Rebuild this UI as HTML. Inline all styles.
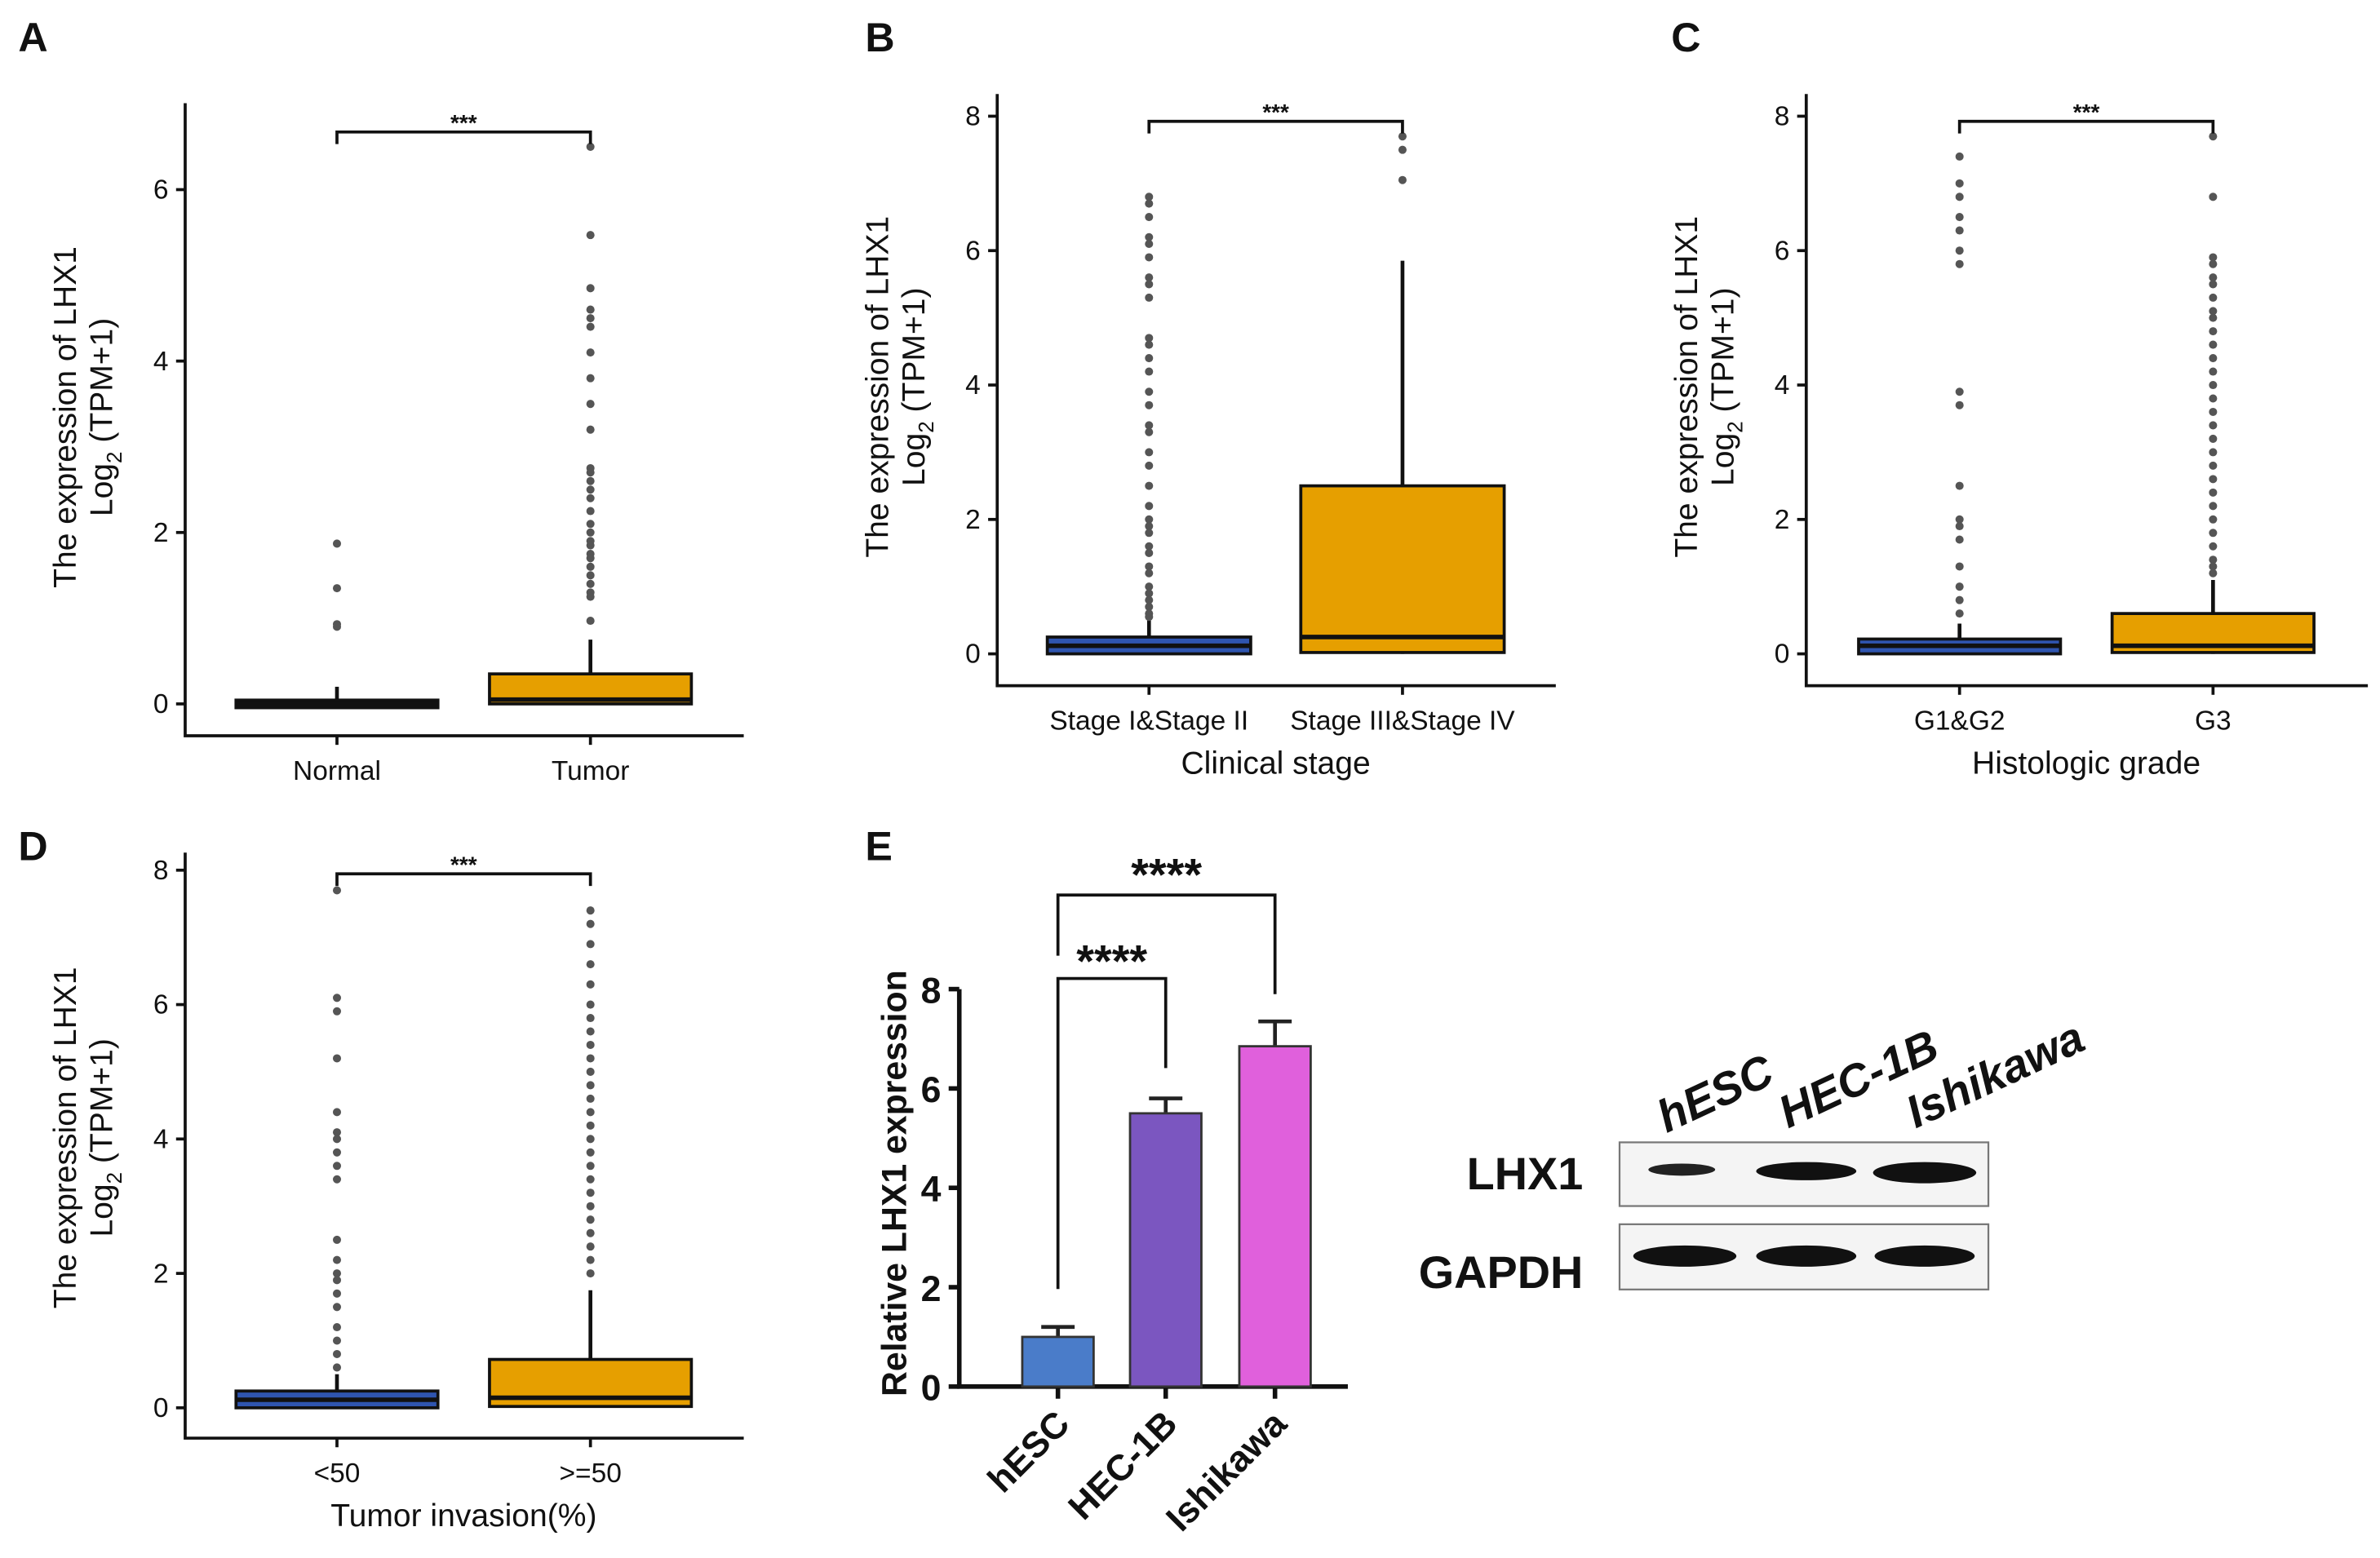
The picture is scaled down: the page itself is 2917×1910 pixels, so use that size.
<!DOCTYPE html>
<html><head><meta charset="utf-8">
<style>
html,body{margin:0;padding:0;background:#fff;}
svg{display:block;}
text{font-family:"Liberation Sans",Arial,sans-serif;fill:#111;}
</style></head>
<body>
<svg id="fig" width="2917" height="1910" viewBox="0 0 1568 1027" preserveAspectRatio="none" xmlns="http://www.w3.org/2000/svg">
<rect width="1568" height="1027" fill="#fff"/>
<g font-weight="bold" font-size="27">
<text x="12" y="34">A</text>
<text x="570" y="34">B</text>
<text x="1101" y="34">C</text>
<text x="12" y="567">D</text>
<text x="570" y="567">E</text>
</g>
<g id="charts"></g>
<g>
<text x="1043" y="784" font-size="30" font-weight="bold" text-anchor="end">LHX1</text>
<text x="1043" y="849" font-size="30" font-weight="bold" text-anchor="end">GAPDH</text>
<rect x="1067" y="753" width="243" height="42" fill="#f4f4f4" stroke="#777" stroke-width="1.2"/>
<rect x="1067" y="807" width="243" height="43" fill="#f4f4f4" stroke="#777" stroke-width="1.2"/>
<ellipse cx="1108" cy="771" rx="22" ry="4" fill="#222"/>
<ellipse cx="1190" cy="772" rx="33" ry="6" fill="#111"/>
<ellipse cx="1268" cy="773" rx="34" ry="7" fill="#111"/>
<ellipse cx="1110" cy="828" rx="34" ry="7" fill="#111"/>
<ellipse cx="1190" cy="828" rx="33" ry="7" fill="#111"/>
<ellipse cx="1268" cy="828" rx="33" ry="7" fill="#111"/>
<g font-size="30" font-style="italic" font-weight="600">
<text transform="translate(1098,747) rotate(-25)">hESC</text>
<text transform="translate(1178,744) rotate(-25)">HEC-1B</text>
<text transform="translate(1262,744) rotate(-25)">Ishikawa</text>
</g>
</g>
</svg>
<script>
// ---- Panel A data ----
const catsA = ["Normal","Tumor"];
const boxA = [[0,0,0,0,0.2],[0,0.05,0.35,0,0.75]];
const outA0 = [1.87,1.35,0.93,0.9];
const outA1 = [6.5,5.47,4.85,4.6,4.5,4.4,4.1,3.8,3.5,3.2,2.75,2.7,2.6,2.5,2.4,2.25,2.1,2.0,1.9,1.85,1.75,1.7,1.6,1.5,1.4,1.3,1.25,0.97];
const ticksA = [0,2,4,6];
// ---- Panel B data ----
const catsB = ["Stage I&Stage II","Stage III&Stage IV"];
const boxB = [[0,0.12,0.25,0,0.5],[0.02,0.25,2.5,0,5.85]];
const outB0 = [6.8,6.7,6.5,6.2,6.1,5.9,5.6,5.5,5.3,4.7,4.6,4.4,4.2,3.9,3.7,3.4,3.3,3.0,2.8,2.5,2.2,2.0,1.9,1.8,1.6,1.5,1.3,1.2,1.0,0.9,0.8,0.7,0.6,0.55];
const outB1 = [7.7,7.5,7.05];
const ticksB = [0,2,4,6,8];
// ---- Panel C data ----
const catsC = ["G1&G2","G3"];
const boxC = [[0,0.12,0.22,0,0.45],[0.02,0.12,0.6,0,1.1]];
const outC0 = [7.4,7.0,6.8,6.5,6.3,6.0,5.8,3.9,3.7,2.5,2.0,1.9,1.7,1.3,1.0,0.8,0.6];
const outC1 = [7.7,6.8,5.9,5.8,5.6,5.5,5.3,5.1,5.0,4.8,4.6,4.4,4.2,4.0,3.8,3.6,3.4,3.2,3.0,2.8,2.6,2.4,2.2,2.0,1.8,1.6,1.4,1.3,1.2];
const ticksC = [0,2,4,6,8];
// ---- Panel D data ----
const catsD = ["<50",">=50"];
const boxD = [[0,0.12,0.25,0,0.5],[0.02,0.15,0.72,0,1.75]];
const outD0 = [7.7,6.1,5.9,5.2,4.4,4.1,4.0,3.8,3.6,3.4,2.5,2.2,2.0,1.9,1.7,1.5,1.2,1.0,0.8,0.6];
const outD1 = [7.4,7.2,6.9,6.6,6.3,6.0,5.8,5.6,5.4,5.2,5.0,4.8,4.6,4.4,4.2,4.0,3.8,3.6,3.4,3.2,3.0,2.8,2.6,2.4,2.2,2.0];
const ticksD = [0,2,4,6,8];
// ---- Panel E data ----
const catsE = ["hESC","HEC-1B","Ishikawa"];
const meansE = [1.0,5.5,6.85];
const errsE = [0.2,0.3,0.5];
const ticksE = [0,2,4,6,8];
const colorsE = ["#4a7cc9","#7b56c0","#e060dc"];

const NS = "http://www.w3.org/2000/svg";
const root = document.getElementById('charts');
function mk(tag, attrs, parent){const e=document.createElementNS(NS,tag);for(const k in attrs)e.setAttribute(k,attrs[k]);(parent||root).appendChild(e);return e;}

function boxPanel(p, cats, boxes, outs, ticks){
  const g = mk('g',{});
  
  
  const y = v => p.y0 - v*p.unit;
  const x = i => p.cx[i];
  const ax = mk('path',{d:`M${p.ax},${p.top} V${p.base} H${p.axEnd}`,fill:'none',stroke:'#111','stroke-width':2},g);
  
  
  ticks.forEach(t=>{
    mk('line',{x1:p.ax-6,x2:p.ax,y1:y(t),y2:y(t),stroke:'#111','stroke-width':2},g);
    const tl = mk('text',{x:p.ax-11,y:y(t)+6,'font-size':18,'text-anchor':'end'},g);
    tl.textContent=t;
    
    
  });
  const colors=['#2f55b0','#E69F00'];
  cats.forEach((c,i)=>{
    const b=boxes[i];
    mk('line',{x1:x(i),x2:x(i),y1:p.base,y2:p.base+6,stroke:'#111','stroke-width':2},g);
    const wh=mk('line',{x1:x(i),x2:x(i),y1:y(b[3]),y2:y(b[4]),stroke:'#111','stroke-width':2.5},g);
    
    
    const rh=y(b[0])-y(b[2]);
    const flat = rh<3;
    const h=flat?5:rh;
    const r=mk('rect',{x:x(i)-p.bw/2,y:y(b[0])-(flat?2.5:h),width:p.bw,height:h,fill:flat?'#111':colors[i],stroke:'#111','stroke-width':2},g);
    
    
    mk('line',{x1:x(i)-p.bw/2,x2:x(i)+p.bw/2,y1:y(b[1]),y2:y(b[1]),stroke:'#111','stroke-width':3},g);
    outs[i].forEach(v=>{
      const d=mk('circle',{cx:x(i),cy:y(v),r:2.7,fill:'#555'},g);
      
      
    });
    const lb=mk('text',{x:x(i),y:p.base+29,'font-size':18,'text-anchor':'middle'},g);
    lb.textContent=c;
    
    
  });
  mk('path',{d:`M${x(0)},${p.brY+8} V${p.brY} H${x(1)} V${p.brY+8}`,fill:'none',stroke:'#111','stroke-width':2},g);
  const st=mk('text',{x:(x(0)+x(1))/2,y:p.brY-1,'font-size':15,'text-anchor':'middle','font-weight':'bold'},g);
  st.textContent='***';
  
  
  const yt=mk('text',{transform:`translate(${p.ytx},${p.ytc}) rotate(-90)`,'font-size':21,'text-anchor':'middle'},g);
  
  
  const t1=mk('tspan',{x:0,y:0},yt);t1.textContent='The expression of LHX1';
  const t2=mk('tspan',{x:0,y:24},yt);t2.textContent='Log';
  const t3=mk('tspan',{dy:6,'font-size':14},yt);t3.textContent='2';
  const t4=mk('tspan',{dy:-6},yt);t4.textContent=' (TPM+1)';
  if(p.xtitle){
    const xt=mk('text',{x:(x(0)+x(1))/2,y:p.base+58,'font-size':21,'text-anchor':'middle'},g);
    xt.textContent=p.xtitle;
    
    
  }
}

boxPanel({name:'panel-a-boxplot',ax:122,top:68,base:485,axEnd:490,y0:464,unit:56.5,cx:[222,389],bw:133,brY:87,ytx:50,ytc:275},catsA,boxA,[outA0,outA1],ticksA);
boxPanel({name:'panel-b-boxplot',ax:657,top:62,base:452,axEnd:1025,y0:431,unit:44.3,cx:[757,924],bw:134,brY:80,ytx:585,ytc:255,xtitle:'Clinical stage'},catsB,boxB,[outB0,outB1],ticksB);
boxPanel({name:'panel-c-boxplot',ax:1190,top:62,base:452,axEnd:1560,y0:431,unit:44.3,cx:[1291,1458],bw:133,brY:80,ytx:1118,ytc:255,xtitle:'Histologic grade'},catsC,boxC,[outC0,outC1],ticksC);
boxPanel({name:'panel-d-boxplot',ax:122,top:562,base:948,axEnd:490,y0:928,unit:44.3,cx:[222,389],bw:133,brY:576,ytx:50,ytc:750,xtitle:'Tumor invasion(%)'},catsD,boxD,[outD0,outD1],ticksD);

(function(){
  const g = mk('g',{});
  
  
  const y0=914, unit=32.75, ax=632, cx=[697,768,840], bw=47;
  const y=v=>y0-v*unit;
  mk('path',{d:`M${ax},${y(8)} V${y0} H888`,fill:'none',stroke:'#111','stroke-width':3},g);
  ticksE.forEach(t=>{
    mk('line',{x1:ax-7,x2:ax,y1:y(t),y2:y(t),stroke:'#111','stroke-width':3},g);
    const tl=mk('text',{x:ax-12,y:y(t)+9,'font-size':24,'font-weight':'bold','text-anchor':'end'},g);
    tl.textContent=t;
    
    
  });
  catsE.forEach((c,i)=>{
    mk('line',{x1:cx[i],x2:cx[i],y1:y0,y2:y0+8,stroke:'#111','stroke-width':3},g);
    const eb=mk('path',{d:`M${cx[i]},${y(meansE[i])} V${y(meansE[i]+errsE[i])} M${cx[i]-11},${y(meansE[i]+errsE[i])} H${cx[i]+11}`,stroke:'#222','stroke-width':2.5,fill:'none'},g);
    
    
    const r=mk('rect',{x:cx[i]-bw/2,y:y(meansE[i]),width:bw,height:meansE[i]*unit,fill:colorsE[i],stroke:'#333','stroke-width':1.5},g);
    
    
    const lb=mk('text',{transform:`translate(${cx[i]+9},${y0+26}) rotate(-45)`,'font-size':24,'font-weight':'bold','text-anchor':'end'},g);
    lb.textContent=c;
    
    
  });
  const t0=y(meansE[0]+errsE[0])-25;
  mk('path',{d:`M${cx[0]},${t0} V645 H${cx[1]} V${y(meansE[1]+errsE[1])-20}`,fill:'none',stroke:'#111','stroke-width':2},g);
  mk('path',{d:`M${cx[0]},630 V590 H${cx[2]} V${y(meansE[2]+errsE[2])-18}`,fill:'none',stroke:'#111','stroke-width':2},g);
  const s1=mk('text',{x:(cx[0]+cx[1])/2,y:644,'font-size':30,'font-weight':'bold','text-anchor':'middle'},g);
  s1.textContent='****';
  
  
  const s2=mk('text',{x:(cx[0]+cx[2])/2,y:587,'font-size':30,'font-weight':'bold','text-anchor':'middle'},g);
  s2.textContent='****';
  
  
  const yt=mk('text',{transform:`translate(597,780) rotate(-90)`,'font-size':23,'font-weight':'bold','text-anchor':'middle'},g);
  yt.textContent='Relative LHX1 expression';
  
  
})();
</script>
</body></html>
